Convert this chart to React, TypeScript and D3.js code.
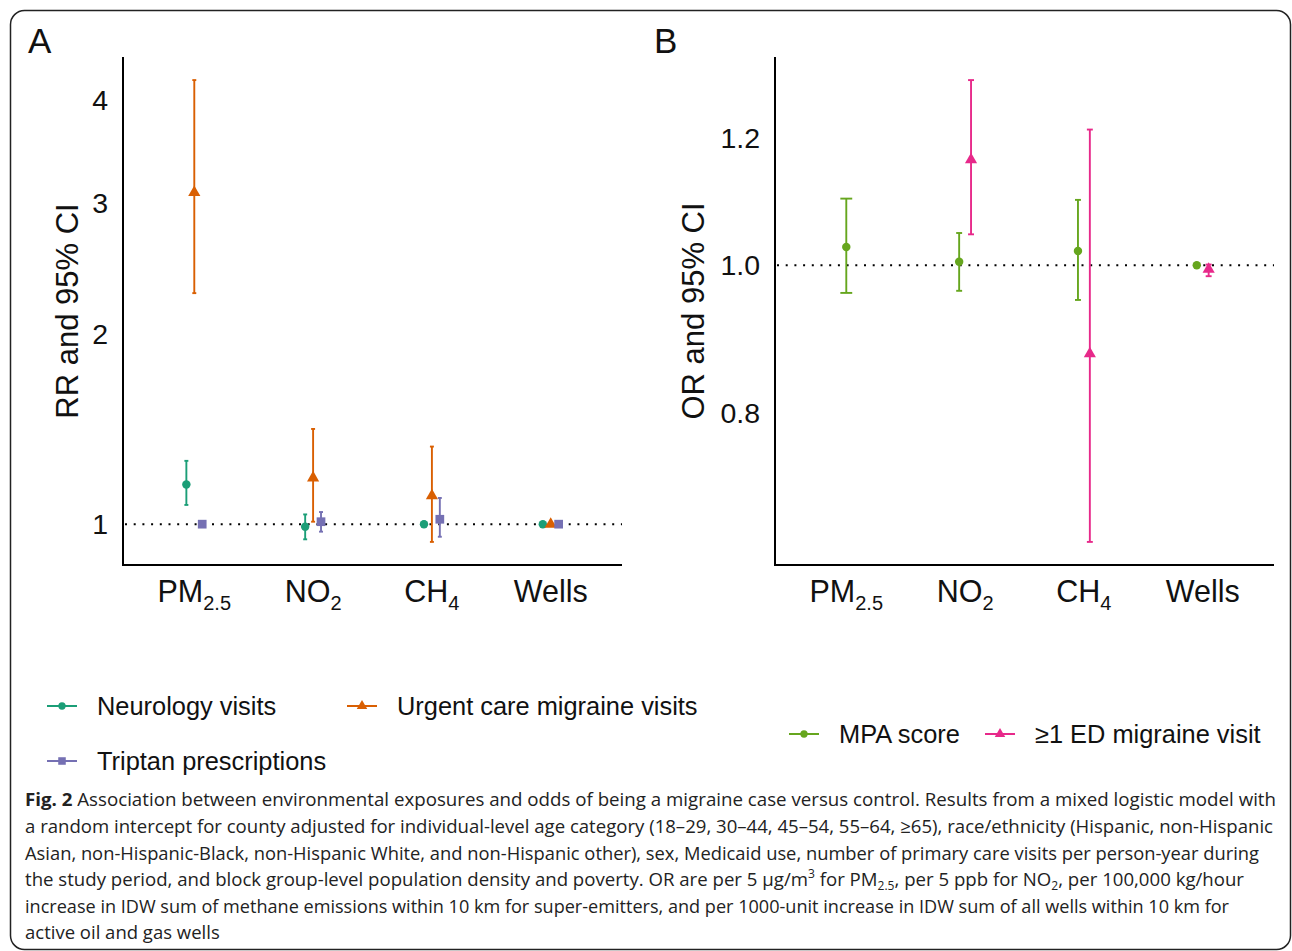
import React from "react";
import * as d3 from "d3";

// exposure categories (x axis)
const exposures = ["PM2.5", "NO2", "CH4", "Wells"];
const exposureMain = ["PM", "NO", "CH", "Wells"];
const exposureSub = ["2.5", "2", "4", ""];

// panel A: RR and 95% CI
const neuroRR = [1.17, 0.99, 1.0, 1.0];
const neuroLo = [1.08, 0.94, 0.99, 0.995];
const neuroHi = [1.28, 1.04, 1.01, 1.005];

const urgentRR = [3.09, 1.2, 1.12, 1.0];
const urgentLo = [2.28, 1.01, 0.93, 0.995];
const urgentHi = [4.21, 1.44, 1.35, 1.005];

const triptanRR = [1.0, 1.01, 1.02, 1.0];
const triptanLo = [0.995, 0.97, 0.95, 0.995];
const triptanHi = [1.005, 1.05, 1.11, 1.005];

// panel B: OR and 95% CI
const mpaOR = [1.027, 1.005, 1.021, 1.0];
const mpaLo = [0.96, 0.963, 0.95, 0.998];
const mpaHi = [1.101, 1.048, 1.099, 1.002];

const edOR = [null, 1.163, 0.876, 0.994];
const edLo = [null, 1.046, 0.649, 0.984];
const edHi = [null, 1.298, 1.213, 1.001];

const ticksA = [1, 2, 3, 4];
const ticksB = [0.8, 1.0, 1.2];

const captionLines = [
  " Association between environmental exposures and odds of being a migraine case versus control. Results from a mixed logistic model with",
  "a random intercept for county adjusted for individual-level age category (18–29, 30–44, 45–54, 55–64, ≥65), race/ethnicity (Hispanic, non-Hispanic",
  "Asian, non-Hispanic-Black, non-Hispanic White, and non-Hispanic other), sex, Medicaid use, number of primary care visits per person-year during",
  "the study period, and block group-level population density and poverty. OR are per 5 μg/m",
  "increase in IDW sum of methane emissions within 10 km for super-emitters, and per 1000-unit increase in IDW sum of all wells within 10 km for",
  "active oil and gas wells",
];

const FONT = "'Liberation Sans', Arial, Helvetica, sans-serif";
const POW = 0.3;

type Series = {
  name: string;
  color: string;
  shape: d3.SymbolType;
  size: number;
  est: (number | null)[];
  lo: (number | null)[];
  hi: (number | null)[];
};

const seriesA: Series[] = [
  { name: "Neurology visits", color: "#1B9E77", shape: d3.symbolCircle, size: 56, est: neuroRR, lo: neuroLo, hi: neuroHi },
  { name: "Urgent care migraine visits", color: "#D95F02", shape: d3.symbolTriangle, size: 64, est: urgentRR, lo: urgentLo, hi: urgentHi },
  { name: "Triptan prescriptions", color: "#7570B3", shape: d3.symbolSquare, size: 76, est: triptanRR, lo: triptanLo, hi: triptanHi },
];

const seriesB: Series[] = [
  { name: "MPA score", color: "#66A61E", shape: d3.symbolCircle, size: 56, est: mpaOR, lo: mpaLo, hi: mpaHi },
  { name: "≥1 ED migraine visit", color: "#E7298A", shape: d3.symbolTriangle, size: 64, est: edOR, lo: edLo, hi: edHi },
];

function Panel({ x0, x1, yTop, yBottom, series, ticks, fmt, title, titleX }: any) {
  const x = d3.scalePoint().domain(exposures).range([x0, x1]).padding(0.6);
  const step = x.step();

  const vals: number[] = [];
  series.forEach((s: Series) => {
    s.lo.forEach((v) => v != null && vals.push(v));
    s.hi.forEach((v) => v != null && vals.push(v));
  });
  const tmin = Math.pow(d3.min(vals)!, POW);
  const tmax = Math.pow(d3.max(vals)!, POW);
  const pad = (tmax - tmin) * 0.05;
  const y = d3
    .scalePow()
    .exponent(POW)
    .domain([Math.pow(tmin - pad, 1 / POW), Math.pow(tmax + pad, 1 / POW)])
    .range([yBottom, yTop]);

  const marks: any[] = [];
  exposures.forEach((cat, i) => {
    const present = series.filter((s: Series) => s.est[i] != null);
    const n = present.length;
    present.forEach((s: Series, k: number) => {
      const cx = x(cat)! + (k - (n - 1) / 2) * ((0.2 * step) / n);
      const cap = (0.1 * step) / n / 2;
      const ylo = y(s.lo[i] as number);
      const yhi = y(s.hi[i] as number);
      marks.push(
        <g key={s.name + cat}>
          <line x1={cx} x2={cx} y1={ylo} y2={yhi} stroke={s.color} strokeWidth={1.9} />
          <line x1={cx - cap} x2={cx + cap} y1={ylo} y2={ylo} stroke={s.color} strokeWidth={1.9} />
          <line x1={cx - cap} x2={cx + cap} y1={yhi} y2={yhi} stroke={s.color} strokeWidth={1.9} />
          <path
            d={d3.symbol().type(s.shape).size(s.size)()!}
            transform={`translate(${cx},${y(s.est[i] as number)})`}
            fill={s.color}
          />
        </g>
      );
    });
  });

  return (
    <g fontFamily={FONT}>
      <line x1={x0 + 2} x2={x1} y1={y(1)} y2={y(1)} stroke="#000" strokeWidth={2} strokeDasharray="2,6.7" />
      {marks}
      <line x1={x0} x2={x0} y1={yTop} y2={yBottom + 1} stroke="#000" strokeWidth={2} />
      <line x1={x0 - 1} x2={x1} y1={yBottom} y2={yBottom} stroke="#000" strokeWidth={2} />
      {ticks.map((t: number) => (
        <text key={t} x={x0 - 15} y={y(t)} dy="0.36em" textAnchor="end" fontSize={28.5} fill="#111">
          {fmt(t)}
        </text>
      ))}
      {exposures.map((cat, i) => (
        <text key={cat} x={x(cat)} y={yBottom + 37} textAnchor="middle" fontSize={30.5} fill="#111">
          {exposureMain[i]}
          {exposureSub[i] && (
            <tspan fontSize={20} dy={8}>
              {exposureSub[i]}
            </tspan>
          )}
        </text>
      ))}
      <text
        transform={`translate(${titleX},${(yTop + yBottom) / 2}) rotate(-90)`}
        textAnchor="middle"
        dy="0.36em"
        fontSize={31}
        fill="#111"
      >
        {title}
      </text>
    </g>
  );
}

function LegendItem({ s, x, y }: { s: Series; x: number; y: number }) {
  return (
    <g fontFamily={FONT}>
      <line x1={x} x2={x + 30} y1={y} y2={y} stroke={s.color} strokeWidth={2} />
      <path d={d3.symbol().type(s.shape).size(s.size * 0.75)()!} transform={`translate(${x + 15},${y})`} fill={s.color} />
      <text x={x + 50} y={y} dy="0.36em" fontSize={25.4} fill="#111">
        {s.name}
      </text>
    </g>
  );
}

export default function App() {
  const capY = [806, 833, 860, 886, 913, 939];
  const capW = [1251, 1248, 1234, 1219, 1204, 0];
  return (
    <svg width={1292} height={951} style={{ position: "absolute", left: 0, top: 0, background: "#fff" }}>
      <rect x={10.5} y={10.5} width={1280} height={939} rx={14} fill="none" stroke="#222" strokeWidth={1.5} />

      <text x={28} y={53} fontFamily={FONT} fontSize={35} fill="#111">A</text>
      <text x={654} y={53} fontFamily={FONT} fontSize={35} fill="#111">B</text>

      <Panel x0={123} x1={622} yTop={57} yBottom={565} series={seriesA} ticks={ticksA} fmt={(t: number) => String(t)} title="RR and 95% CI" titleX={67} />
      <Panel x0={775} x1={1274} yTop={57} yBottom={565} series={seriesB} ticks={ticksB} fmt={(t: number) => t.toFixed(1)} title="OR and 95% CI" titleX={693} />

      <LegendItem s={seriesA[0]} x={47} y={706} />
      <LegendItem s={seriesA[1]} x={347} y={706} />
      <LegendItem s={seriesA[2]} x={47} y={761} />
      <LegendItem s={seriesB[0]} x={789} y={734} />
      <LegendItem s={seriesB[1]} x={985} y={734} />

      <g fontFamily="'Open Sans', sans-serif" fontSize={18.5} fill="#222">
        {captionLines.map((line, i) => {
          const props: any = { key: i, x: 25, y: capY[i] };
          if (i === 0) {
            return (
              <text {...props} textLength={capW[i]} lengthAdjust="spacingAndGlyphs">
                <tspan fontWeight="bold">Fig. 2</tspan>
                {line}
              </text>
            );
          }
          if (i === 3) {
            return (
              <text {...props} textLength={capW[i]} lengthAdjust="spacingAndGlyphs">
                {line}
                <tspan fontSize={12} dy={-8}>3</tspan>
                <tspan dy={8}> for PM</tspan>
                <tspan fontSize={12} dy={4}>2.5</tspan>
                <tspan dy={-4}>, per 5 ppb for NO</tspan>
                <tspan fontSize={12} dy={4}>2</tspan>
                <tspan dy={-4}>, per 100,000 kg/hour</tspan>
              </text>
            );
          }
          return capW[i] ? (
            <text {...props} textLength={capW[i]} lengthAdjust="spacingAndGlyphs">{line}</text>
          ) : (
            <text {...props}>{line}</text>
          );
        })}
      </g>
    </svg>
  );
}
